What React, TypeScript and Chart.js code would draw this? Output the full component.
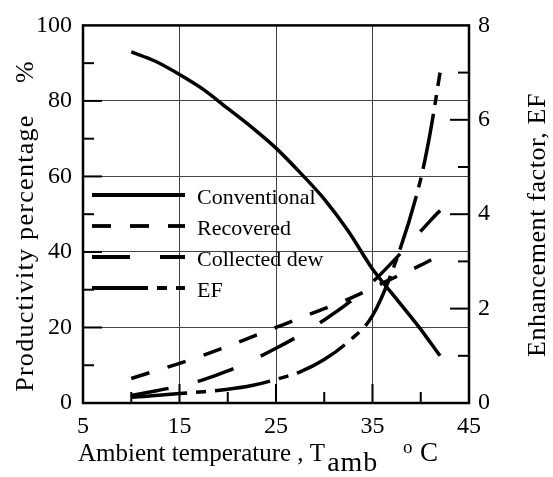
import { useEffect, useRef } from 'react';
import { Chart, registerables } from 'chart.js';

Chart.register(...registerables);

// Ambient temperature (°C) at which each series is sampled
const temperatures = [10, 12.5, 15, 17.5, 20, 22.5, 25, 27.5, 30, 32.5, 35, 37.5, 40, 41, 42];
// Productivity percentage (%)
const conventional = [93, 90.5, 87, 83, 78, 73, 67.5, 61, 54, 45.5, 35.5, 27.5, 19.5, 16, 12.5];
const recovered = [6.5, 8.5, 10.5, 12.7, 15, 17.5, 20, 22.5, 25, 27.5, 30.5, 33.5, 36.5, 37.8, 39];
const collectedDew = [2, 3.2, 4.5, 6.2, 8.5, 11.3, 14.5, 18, 22, 26.5, 32, 38.5, 45.5, 48.3, 51];
// Enhancement factor (right axis)
const enhancementFactor = [0.12, 0.16, 0.2, 0.24, 0.29, 0.37, 0.5, 0.66, 0.92, 1.3, 1.85, 3.05, 4.75, 5.75, 7.0];

const seriesLabels = ['Conventional', 'Recovered', 'Collected dew', 'EF'];

// Axis ranges and steps
const xRange = [5, 45];
const xStep = 10;
const leftRange = [0, 100];
const leftStep = 20;
const rightRange = [0, 8];
const rightStep = 2;

const SERIF = "'Liberation Serif', 'Times New Roman', serif";

function stepsBetween(min: number, max: number, step: number) {
  const out: number[] = [];
  for (let v = min; v <= max + 1e-9; v += step) out.push(v);
  return out;
}

const decor = {
  id: 'decor',
  afterDraw(chart: any) {
    const { ctx, chartArea: a, scales } = chart;
    ctx.save();
    ctx.strokeStyle = '#000';
    ctx.fillStyle = '#000';

    // inward major and minor ticks
    ctx.lineWidth = 2;
    const drawTicks = (
      scale: any,
      min: number,
      max: number,
      step: number,
      draw: (p: number, len: number) => void
    ) => {
      const vals = stepsBetween(min, max, step);
      vals.forEach((v, i) => {
        if (i > 0 && i < vals.length - 1) draw(scale.getPixelForValue(v), 19);
        if (i < vals.length - 1) draw(scale.getPixelForValue(v + step / 2), 11);
      });
    };
    drawTicks(scales.y, leftRange[0], leftRange[1], leftStep, (p, len) => {
      ctx.beginPath();
      ctx.moveTo(a.left, p);
      ctx.lineTo(a.left + len, p);
      ctx.stroke();
    });
    drawTicks(scales.x, xRange[0], xRange[1], xStep, (p, len) => {
      ctx.beginPath();
      ctx.moveTo(p, a.bottom);
      ctx.lineTo(p, a.bottom - len);
      ctx.stroke();
    });
    drawTicks(scales.y1, rightRange[0], rightRange[1], rightStep, (p, len) => {
      ctx.beginPath();
      ctx.moveTo(a.right, p);
      ctx.lineTo(a.right - len, p);
      ctx.stroke();
    });

    // plot frame
    ctx.lineWidth = 2.5;
    ctx.strokeRect(a.left, a.top, a.right - a.left, a.bottom - a.top);

    // legend inside the plot
    const rowTop = 195;
    const rowGap = 31;
    chart.data.datasets.forEach((ds: any, i: number) => {
      const y = rowTop + i * rowGap;
      ctx.save();
      ctx.lineWidth = 3.8;
      ctx.lineCap = 'butt';
      ctx.setLineDash(ds.borderDash || []);
      ctx.beginPath();
      ctx.moveTo(92, y);
      ctx.lineTo(185, y);
      ctx.stroke();
      ctx.restore();
      ctx.font = `22px ${SERIF}`;
      ctx.textAlign = 'left';
      ctx.textBaseline = 'alphabetic';
      ctx.fillText(ds.label, 197, y + 8.5);
    });

    // left axis title
    ctx.save();
    ctx.translate(33, 226);
    ctx.rotate(-Math.PI / 2);
    ctx.font = `26px ${SERIF}`;
    (ctx as any).letterSpacing = '1.3px';
    ctx.textAlign = 'center';
    ctx.textBaseline = 'alphabetic';
    ctx.fillText('Productivity percentage    %', 0, 0);
    ctx.restore();

    // right axis title
    ctx.save();
    ctx.translate(545, 225);
    ctx.rotate(-Math.PI / 2);
    ctx.font = `26px ${SERIF}`;
    (ctx as any).letterSpacing = '0.6px';
    ctx.textAlign = 'center';
    ctx.textBaseline = 'alphabetic';
    ctx.fillText('Enhancement factor, EF', 0, 0);
    ctx.restore();

    // bottom axis title with subscript and degree mark
    ctx.save();
    ctx.textAlign = 'left';
    ctx.textBaseline = 'alphabetic';
    ctx.font = `25px ${SERIF}`;
    const main = 'Ambient temperature , T';
    ctx.fillText(main, 78, 461);
    const tEnd = 78 + ctx.measureText(main).width;
    ctx.font = `28px ${SERIF}`;
    (ctx as any).letterSpacing = '1px';
    ctx.fillText('amb', tEnd + 2, 471);
    (ctx as any).letterSpacing = '0px';
    ctx.font = `19px ${SERIF}`;
    ctx.fillText('o', 403, 453);
    ctx.font = `27px ${SERIF}`;
    ctx.fillText('C', 420, 461);
    ctx.restore();

    ctx.restore();
  },
};

function points(values: number[]) {
  return temperatures.map((t, i) => ({ x: t, y: values[i] }));
}

export default function App() {
  const ref = useRef<HTMLCanvasElement>(null);

  useEffect(() => {
    const canvas = ref.current;
    if (!canvas) return;
    const common = {
      borderColor: '#000',
      backgroundColor: '#000',
      borderWidth: 3.5,
      pointRadius: 0,
      cubicInterpolationMode: 'monotone' as const,
      fill: false,
    };
    const tickFont = { family: SERIF, size: 24 };
    const chart = new Chart(canvas, {
      type: 'line',
      data: {
        datasets: [
          { ...common, label: seriesLabels[0], data: points(conventional), borderDash: [], yAxisID: 'y' },
          { ...common, label: seriesLabels[1], data: points(recovered), borderDash: [19, 19], yAxisID: 'y' },
          { ...common, label: seriesLabels[2], data: points(collectedDew), borderDash: [38, 30], yAxisID: 'y' },
          { ...common, label: seriesLabels[3], data: points(enhancementFactor), borderDash: [56, 9, 10, 9], yAxisID: 'y1' },
        ],
      },
      options: {
        animation: false,
        responsive: false,
        devicePixelRatio: 1,
        layout: { padding: { top: 17, left: 0, right: 0, bottom: 0 } },
        plugins: { legend: { display: false }, tooltip: { enabled: false } },
        scales: {
          x: {
            type: 'linear',
            min: xRange[0],
            max: xRange[1],
            ticks: { stepSize: xStep, color: '#000', font: tickFont, padding: 9, maxRotation: 0 },
            grid: { color: '#444', lineWidth: 1, drawTicks: false },
            border: { display: false },
            afterFit: (s: any) => { s.height = 74; },
          },
          y: {
            type: 'linear',
            position: 'left',
            min: leftRange[0],
            max: leftRange[1],
            ticks: { stepSize: leftStep, color: '#000', font: tickFont, padding: 11 },
            grid: { color: '#444', lineWidth: 1, drawTicks: false },
            border: { display: false },
            afterFit: (s: any) => { s.width = 83; },
          },
          y1: {
            type: 'linear',
            position: 'right',
            min: rightRange[0],
            max: rightRange[1],
            ticks: { stepSize: rightStep, color: '#000', font: tickFont, padding: 9 },
            grid: { drawOnChartArea: false, drawTicks: false },
            border: { display: false },
            afterFit: (s: any) => { s.width = 84; },
          },
        },
      },
      plugins: [decor],
    });
    return () => chart.destroy();
  }, []);

  return (
    <div style={{ position: 'fixed', left: 0, top: 0, width: 553, height: 477, background: '#fff' }}>
      <canvas ref={ref} width={553} height={477} style={{ display: 'block' }} />
    </div>
  );
}
